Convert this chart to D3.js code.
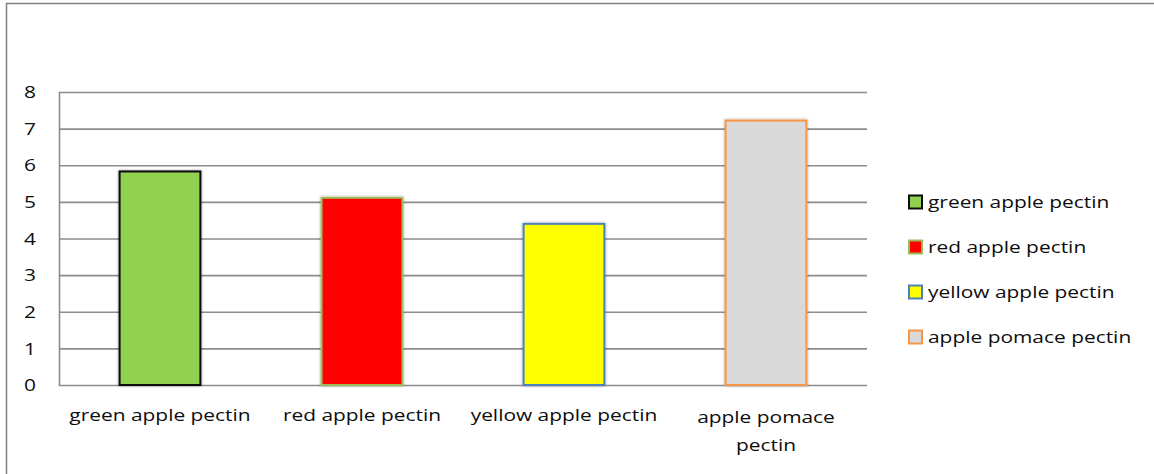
<!DOCTYPE html>
<html>
<head>
<meta charset="utf-8">
<script src="https://cdn.jsdelivr.net/npm/d3@7/dist/d3.min.js"></script>
<style>
  html, body { margin: 0; padding: 0; background: #ffffff; }
  svg { display: block; }
  text { font-family: "Open Sans", "Noto Sans", sans-serif; fill: #0d0d0d; }
</style>
</head>
<body>
<svg id="chart" width="1154" height="474"></svg>
<script>
// Pectin samples and their measured values
const categories = ["green apple pectin", "red apple pectin", "yellow apple pectin", "apple pomace pectin"];
const values = [5.83, 5.11, 4.40, 7.22];
const fillColors = ["#92d050", "#ff0000", "#ffff00", "#d9d9d9"];
const strokeColors = ["#0d0d0d", "#9bbb59", "#4f81bd", "#f79646"];
const yTicks = [0, 1, 2, 3, 4, 5, 6, 7, 8];

const W = 1154, H = 474;
const plot = { left: 59, right: 867, top: 92, bottom: 385 };
const fontSize = 17;
const stretch = 1.23;   // wide text face

const svg = d3.select("#chart");

// drop shadow for the bars
const defs = svg.append("defs");
const f = defs.append("filter").attr("id", "shadow")
  .attr("x", "-20%").attr("y", "-20%").attr("width", "140%").attr("height", "140%");
f.append("feDropShadow").attr("dx", 0).attr("dy", 0).attr("stdDeviation", 1.6)
  .attr("flood-color", "#000").attr("flood-opacity", 0.35);

// outer frame (left and top edges visible)
svg.append("path")
  .attr("d", `M6.5,${H + 5} V3.5 H${W + 5}`)
  .attr("fill", "none").attr("stroke", "#7f7f7f").attr("stroke-width", 1.5);

const x = d3.scaleBand()
  .domain(categories)
  .range([plot.left, plot.right])
  .paddingInner(0.6)
  .paddingOuter(0.3);

const y = d3.scaleLinear().domain([0, 8]).range([plot.bottom, plot.top]);

// gridlines
svg.append("g").selectAll("line").data(yTicks).join("line")
  .attr("x1", plot.left).attr("x2", plot.right)
  .attr("y1", d => y(d) + 0.5).attr("y2", d => y(d) + 0.5)
  .attr("stroke", "#8c8c8c").attr("stroke-width", 1.6);

// vertical axis line
svg.append("line")
  .attr("x1", plot.left + 0.5).attr("x2", plot.left + 0.5)
  .attr("y1", y(8)).attr("y2", y(0) + 1)
  .attr("stroke", "#8c8c8c").attr("stroke-width", 1.6);

// y tick labels
svg.append("g").selectAll("text").data(yTicks).join("text")
  .attr("transform", d => `translate(30,${y(d)}) scale(${stretch},1)`)
  .attr("text-anchor", "middle")
  .attr("dy", "0.36em")
  .attr("font-size", fontSize)
  .text(d => d);

// bars
svg.append("g").selectAll("rect").data(values).join("rect")
  .attr("x", (d, i) => x(categories[i]))
  .attr("y", d => y(d))
  .attr("width", x.bandwidth())
  .attr("height", d => y(0) - y(d))
  .attr("fill", (d, i) => fillColors[i])
  .attr("stroke", (d, i) => strokeColors[i])
  .attr("stroke-width", 2)
  .attr("filter", "url(#shadow)");

// category labels, wrapped onto two lines when wider than the band step
const xl = svg.append("g");
categories.forEach(c => {
  const cx = x(c) + x.bandwidth() / 2;
  const t = xl.append("text")
    .attr("transform", `translate(${cx},421) scale(${stretch},1)`)
    .attr("text-anchor", "middle")
    .attr("font-size", fontSize)
    .text(c);
  const w = t.node().getComputedTextLength() * stretch;
  if (w > x.step() * 0.96) {
    const k = c.lastIndexOf(" ");
    t.text(null);
    t.append("tspan").attr("x", 0).attr("y", 2).text(c.slice(0, k));
    t.append("tspan").attr("x", 0).attr("y", 30).text(c.slice(k + 1));
  }
});

// legend
const lg = svg.append("g");
categories.forEach((c, i) => {
  const cy = 202 + i * 45;
  lg.append("rect")
    .attr("x", 909).attr("y", cy - 6.5)
    .attr("width", 13).attr("height", 13)
    .attr("fill", fillColors[i])
    .attr("stroke", strokeColors[i])
    .attr("stroke-width", 2);
  lg.append("text")
    .attr("transform", `translate(928,${cy}) scale(${stretch},1)`)
    .attr("dy", "0.36em")
    .attr("font-size", fontSize)
    .text(c);
});
</script>
</body>
</html>
